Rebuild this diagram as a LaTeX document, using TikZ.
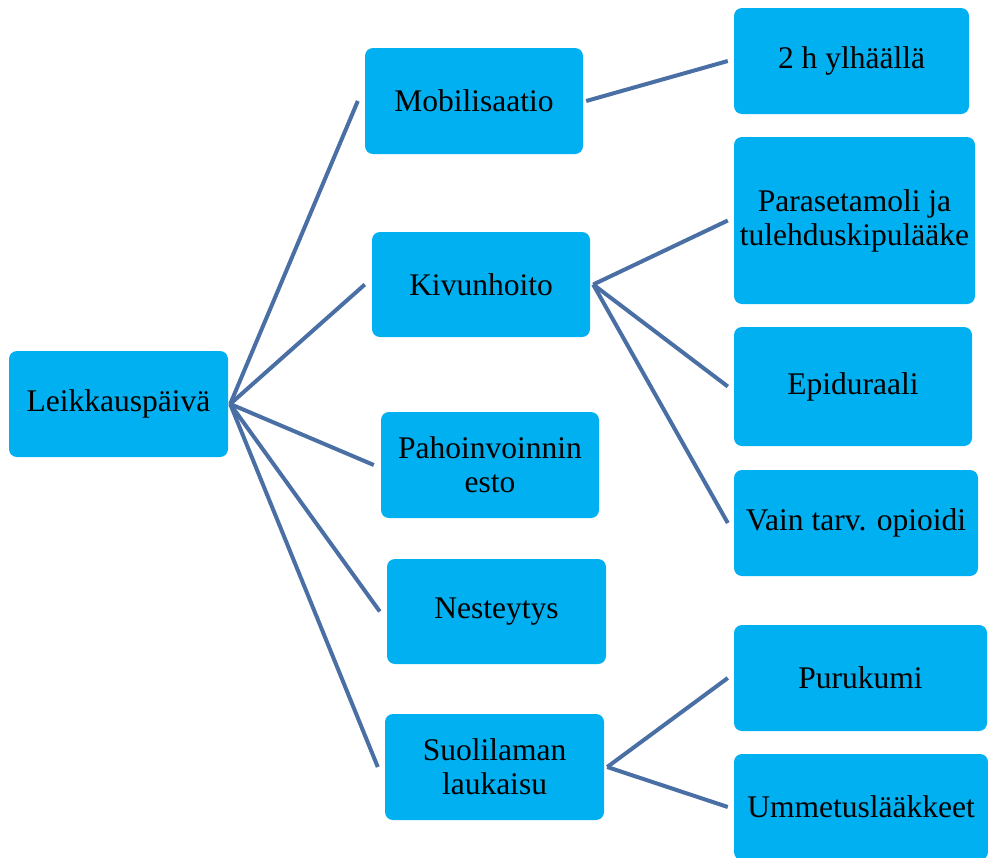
\documentclass[tikz,border=0pt]{standalone}
\usepackage{fontspec}
\setmainfont{Liberation Serif}
\definecolor{boxfill}{HTML}{00B0F0}
\definecolor{linkblue}{HTML}{4A6FA5}
\begin{document}
\begin{tikzpicture}[x=1pt,y=-1pt,
  box/.style={fill=boxfill, rounded corners=8pt, inner sep=0pt, align=center,
    font=\fontsize{31.5}{34}\selectfont, text=black},
  link/.style={draw=linkblue, line width=4pt}]
\useasboundingbox (0,0) rectangle (988,857);

% root
\node[box, minimum width=219pt, minimum height=106pt] (root) at (118.5,404) {Leikkauspäivä};

% second level
\node[box, minimum width=218pt, minimum height=106pt] (mob) at (474,101) {Mobilisaatio};
\node[box, minimum width=218pt, minimum height=105pt] (kivu) at (481,284.5) {Kivunhoito};
\node[box, minimum width=218pt, minimum height=106pt] (paho) at (490,465) {Pahoinvoinnin\\esto};
\node[box, minimum width=219pt, minimum height=105pt] (nest) at (496.5,611.5) {Nesteytys};
\node[box, minimum width=219pt, minimum height=106pt] (suol) at (494.5,767) {Suolilaman\\laukaisu};

% third level
\node[box, minimum width=235pt, minimum height=106pt] (ylh) at (851.5,61) {2 h ylhäällä};
\node[box, minimum width=241pt, minimum height=167pt] (para) at (854.5,220.5) {Parasetamoli ja\\tulehduskipulääke};
\node[box, minimum width=238pt, minimum height=119pt] (epi) at (853,386.5) {Epiduraali};
\node[box, minimum width=244pt, minimum height=106pt] (vain) at (856,523) {Vain tarv. opioidi};
\node[box, minimum width=253pt, minimum height=106pt] (puru) at (860.5,678) {Purukumi};
\node[box, minimum width=254pt, minimum height=106pt] (umm) at (861,807) {Ummetuslääkkeet};

% connectors
\foreach \c in {mob,kivu,paho,nest,suol}
  \draw[link] ([xshift=2pt]root.east) -- ([xshift=-7pt]\c.west);
\draw[link] ([xshift=3pt]mob.east) -- ([xshift=-6pt]ylh.west);
\foreach \c in {para,epi,vain}
  \draw[link] ([xshift=3pt]kivu.east) -- ([xshift=-6pt]\c.west);
\foreach \c in {puru,umm}
  \draw[link] ([xshift=3pt]suol.east) -- ([xshift=-6pt]\c.west);
\end{tikzpicture}
\end{document}
